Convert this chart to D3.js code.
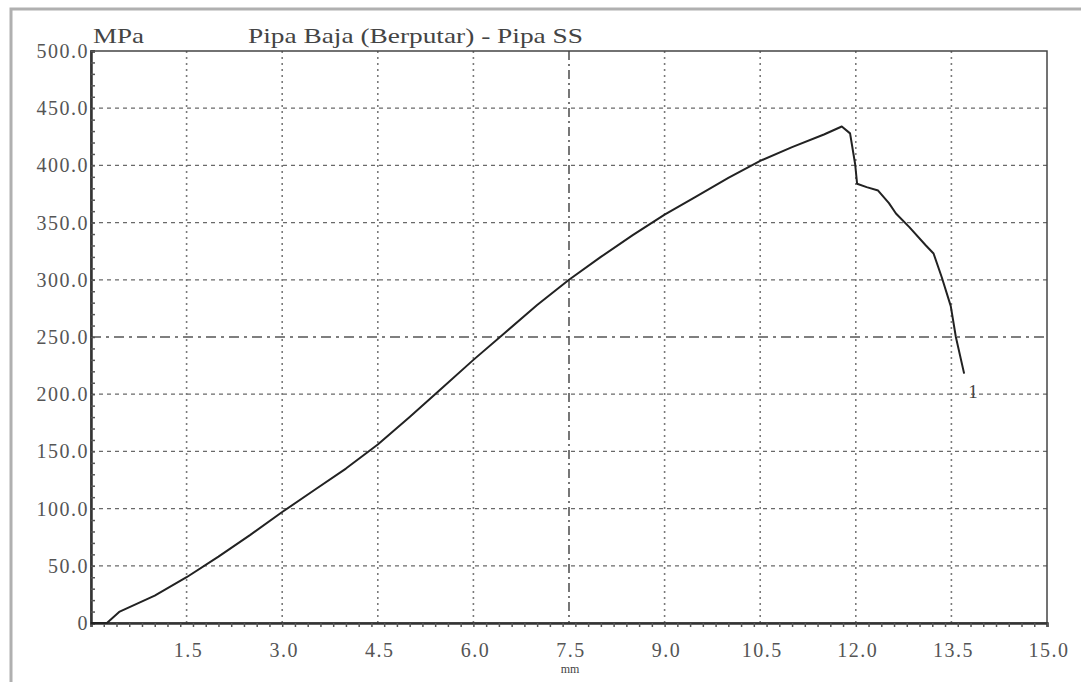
<!DOCTYPE html>
<html>
<head>
<meta charset="utf-8">
<script src="https://cdn.jsdelivr.net/npm/d3@7"></script>
<style>
  body { margin: 0; background: #fff; }
  svg { display: block; font-family: 'Liberation Serif', 'Times New Roman', serif; }
</style>
</head>
<body>
<svg id="chart" width="1081" height="682"></svg>
<script>
// elongation (mm) and stress (MPa)
const strain = [0, 0.25, 0.35, 0.45, 1.0, 1.5, 2.0, 2.5, 3.0, 3.5, 4.0, 4.5, 5.0, 5.5, 6.0, 6.5, 7.0, 7.5, 8.0, 8.5, 9.0, 9.5, 10.0, 10.5, 11.0, 11.5, 11.78, 11.91, 11.99, 12.02, 12.17, 12.35, 12.52, 12.63, 12.84, 13.1, 13.22, 13.35, 13.49, 13.57, 13.7]
const stress = [0, 0, 5, 10, 24, 40, 58, 77, 97, 116, 135, 156, 180, 205, 230, 254, 278, 300, 320, 339, 357, 373, 389, 404, 416, 427, 434, 428, 401, 384, 381, 378, 367, 358, 346, 330, 323, 302, 277, 250, 218]

const xTicks = [1.5, 3.0, 4.5, 6.0, 7.5, 9.0, 10.5, 12.0, 13.5, 15.0]
const yTicks = [0, 50, 100, 150, 200, 250, 300, 350, 400, 450, 500]

const title = 'Pipa Baja (Berputar) - Pipa SS'
const yUnit = 'MPa'
const xUnit = 'mm'
const curveLabel = '1'

const plot = { left: 91, right: 1047, top: 51, bottom: 623 }

const svg = d3.select('#chart')

// outer frame (only top and left edge are visible)
svg
  .append('path')
  .attr('d', 'M11,682 V9 H1081')
  .attr('fill', 'none')
  .attr('stroke', '#b0b0b0')
  .attr('stroke-width', 3)

const x = d3.scaleLinear().domain([0, 15]).range([plot.left, plot.right])
const y = d3.scaleLinear().domain([0, 500]).range([plot.bottom, plot.top])

// grid
svg
  .append('g')
  .selectAll('line')
  .data(xTicks.filter((d) => d < 15))
  .enter()
  .append('line')
  .attr('x1', (d) => x(d))
  .attr('x2', (d) => x(d))
  .attr('y1', y(500))
  .attr('y2', y(0))
  .attr('stroke', (d) => (d === 7.5 ? '#555' : '#7a7a7a'))
  .attr('stroke-width', 1.6)
  .attr('stroke-dasharray', (d) => (d === 7.5 ? '9,4,2,4' : '2,4'))

svg
  .append('g')
  .selectAll('line')
  .data(yTicks.filter((d) => d > 0 && d < 500))
  .enter()
  .append('line')
  .attr('x1', x(0))
  .attr('x2', x(15))
  .attr('y1', (d) => y(d))
  .attr('y2', (d) => y(d))
  .attr('stroke', (d) => (d === 250 ? '#555' : '#6a6a6a'))
  .attr('stroke-width', 1.3)
  .attr('stroke-dasharray', (d) => (d === 250 ? '10,5,3,5' : '4,4'))

// plot border
svg
  .append('rect')
  .attr('x', x(0))
  .attr('y', y(500))
  .attr('width', x(15) - x(0))
  .attr('height', y(0) - y(500))
  .attr('fill', 'none')
  .attr('stroke', '#444')
  .attr('stroke-width', 1.5)

// axes with minor ticks
const xAxis = svg
  .append('g')
  .attr('transform', `translate(0, ${plot.bottom})`)
  .call(d3.axisBottom(x).ticks(50).tickSize(4).tickFormat(''))
xAxis.select('.domain').attr('stroke', '#333').attr('stroke-width', 2.5)
xAxis.selectAll('.tick line').attr('stroke', '#555').attr('stroke-width', 1.5)

const yAxis = svg
  .append('g')
  .attr('transform', `translate(${plot.left}, 0)`)
  .call(d3.axisRight(y).ticks(50).tickSize(4).tickFormat(''))
yAxis.select('.domain').attr('stroke', '#333').attr('stroke-width', 2.5)
yAxis.selectAll('.tick line').attr('stroke', '#555').attr('stroke-width', 1.5)

// tick labels
svg
  .append('g')
  .selectAll('text')
  .data(yTicks)
  .enter()
  .append('text')
  .attr('x', plot.left - 2)
  .attr('y', (d) => y(d) + 7)
  .attr('text-anchor', 'end')
  .attr('font-size', 20)
  .attr('letter-spacing', 1.5)
  .attr('fill', '#555')
  .text((d) => (d === 0 ? '0' : d.toFixed(1)))

svg
  .append('g')
  .selectAll('text')
  .data(xTicks)
  .enter()
  .append('text')
  .attr('x', (d) => x(d) + 2)
  .attr('y', plot.bottom + 34)
  .attr('text-anchor', 'middle')
  .attr('font-size', 20)
  .attr('letter-spacing', 1.5)
  .attr('fill', '#555')
  .text((d) => d.toFixed(1))

svg
  .append('text')
  .attr('x', x(7.5) + 1)
  .attr('y', plot.bottom + 50)
  .attr('text-anchor', 'middle')
  .attr('font-size', 12)
  .attr('fill', '#444')
  .text(xUnit)

// titles
svg
  .append('text')
  .attr('x', plot.left + 2)
  .attr('y', plot.top - 8)
  .attr('font-size', 22)
  .attr('textLength', 51)
  .attr('lengthAdjust', 'spacingAndGlyphs')
  .attr('fill', '#444')
  .text(yUnit)

svg
  .append('text')
  .attr('x', 248)
  .attr('y', plot.top - 8)
  .attr('font-size', 22)
  .attr('textLength', 335)
  .attr('lengthAdjust', 'spacingAndGlyphs')
  .attr('fill', '#444')
  .text(title)

// curve
const pts = strain.map((d, i) => [d, stress[i]])
svg
  .append('path')
  .datum(pts)
  .attr('fill', 'none')
  .attr('stroke', '#222')
  .attr('stroke-width', 2)
  .attr('stroke-linejoin', 'round')
  .attr('d', d3.line().x((d) => x(d[0])).y((d) => y(d[1])))

const last = pts[pts.length - 1]
svg
  .append('text')
  .attr('x', x(last[0]) + 4)
  .attr('y', y(last[1]) + 24)
  .attr('font-size', 19)
  .attr('fill', '#444')
  .text(curveLabel)
</script>
</body>
</html>
